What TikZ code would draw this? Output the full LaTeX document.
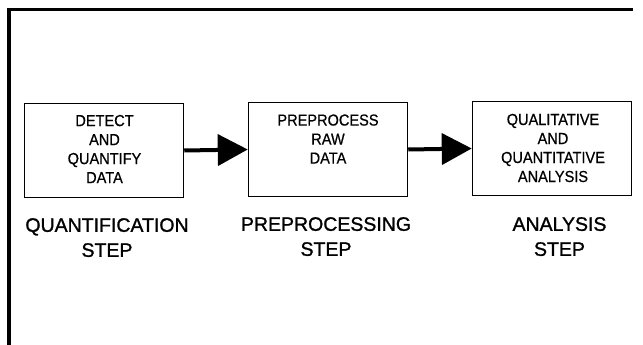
\documentclass[tikz,border=0pt]{standalone}
\usepackage{fontspec}
\setmainfont{Liberation Sans}
\newfontfamily\boxfont[FakeStretch=0.91,FakeBold=0.6]{Liberation Sans}
\newfontfamily\labelfont[FakeBold=1.2]{Liberation Sans}
\usetikzlibrary{arrows.meta}
\tikzset{
  stepbox/.style={draw=black, line width=1.5pt, minimum width=159pt, minimum height=94pt, inner sep=0pt},
  boxtext/.style={align=center, inner sep=0pt, font=\boxfont\fontsize{16}{19}\selectfont},
  steplabel/.style={align=center, inner sep=0pt, anchor=north, font=\labelfont\fontsize{19.5}{25}\selectfont},
  flow/.style={line width=4pt, -{Triangle[length=30pt,width=31pt]}},
  frameline/.style={line width=3.5pt}
}
\begin{document}
\begin{tikzpicture}[x=1pt,y=-1pt]
\useasboundingbox (0,0) rectangle (643,345);
% outer frame (top and left edges visible)
\coordinate (ftl) at (9,9.5);
\coordinate (ftr) at (633,9.5);
\coordinate (fbl) at (9,345);
\draw[frameline] (ftr) -- (ftl) -- (fbl);
% boxes
\node[stepbox] (b1) at (104,150.5) {};
\node[stepbox] (b2) at (328,149.5) {};
\node[stepbox] (b3) at (552,148.5) {};
% box texts
\node[boxtext] (t1) at (104.5,149) {DETECT\\AND\\QUANTIFY\\DATA};
\node[boxtext] (t2) at (328,139) {PREPROCESS\\RAW\\DATA};
\node[boxtext] (t3) at (553,148) {QUALITATIVE\\AND\\QUANTITATIVE\\ANALYSIS};
% arrows
\draw[flow] (b1.east) -- (b2.west);
\draw[flow] (b2.east) -- (b3.west);
% labels
\node[steplabel] (l1) at (107,218) {QUANTIFICATION\\STEP};
\node[steplabel] (l2) at (326,217) {PREPROCESSING\\STEP};
\node[steplabel] (l3) at (559.5,217) {ANALYSIS\\STEP};
\end{tikzpicture}
\end{document}
